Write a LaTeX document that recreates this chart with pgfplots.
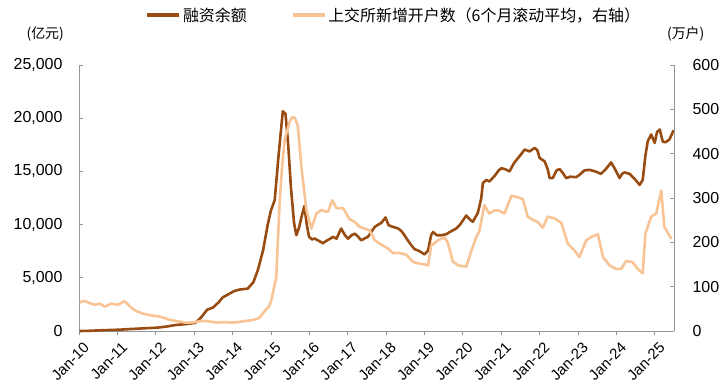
\documentclass[border=0pt]{standalone}
\usepackage{fontspec}
\setmainfont{Liberation Sans}
\newfontfamily\cjk{Noto Sans CJK SC}
\usepackage{pgfplots}
\pgfplotsset{compat=1.18}
\definecolor{darkb}{RGB}{153,76,18}
\definecolor{lightp}{RGB}{248,196,150}
\definecolor{axgray}{RGB}{150,150,150}

\pgfplotstableread{
x v
2010.00 0
2010.25 20
2010.50 60
2010.75 90
2011.00 120
2011.25 170
2011.50 220
2011.75 270
2012.00 310
2012.25 420
2012.50 570
2012.75 650
2012.90 720
2013.00 780
2013.15 1300
2013.30 2000
2013.45 2200
2013.60 2700
2013.70 3150
2013.85 3450
2014.00 3750
2014.15 3900
2014.35 3980
2014.50 4600
2014.62 5800
2014.75 7600
2014.87 10000
2014.95 11300
2015.05 12300
2015.15 16500
2015.26 20650
2015.33 20400
2015.40 17500
2015.47 13500
2015.55 10200
2015.61 9000
2015.68 9700
2015.75 10800
2015.82 11750
2015.88 10000
2015.94 8850
2016.02 8600
2016.08 8700
2016.18 8500
2016.30 8250
2016.40 8500
2016.50 8700
2016.56 8850
2016.65 8680
2016.77 9630
2016.87 9000
2016.95 8680
2017.04 9000
2017.12 9150
2017.20 8900
2017.29 8520
2017.38 8700
2017.46 8840
2017.55 9300
2017.64 9780
2017.73 10000
2017.81 10160
2017.92 10670
2018.00 9940
2018.10 9800
2018.24 9650
2018.33 9400
2018.41 9000
2018.50 8500
2018.60 8000
2018.67 7700
2018.80 7500
2018.93 7200
2019.02 7550
2019.10 9000
2019.15 9300
2019.25 9000
2019.36 9000
2019.49 9090
2019.58 9300
2019.75 9630
2019.85 10000
2020.01 10850
2020.10 10500
2020.18 10260
2020.31 11100
2020.40 12500
2020.44 13900
2020.53 14200
2020.61 14050
2020.75 14600
2020.85 15100
2020.92 15300
2021.02 15200
2021.13 15000
2021.25 15800
2021.35 16250
2021.45 16700
2021.52 17050
2021.65 16880
2021.78 17210
2021.85 17000
2021.91 16260
2022.04 15940
2022.12 15200
2022.17 14370
2022.25 14370
2022.35 15100
2022.43 15220
2022.52 14800
2022.60 14370
2022.70 14500
2022.86 14460
2022.95 14700
2023.07 15090
2023.20 15150
2023.35 15000
2023.50 14770
2023.62 15200
2023.76 15840
2023.85 15300
2023.98 14370
2024.05 14800
2024.11 14900
2024.24 14770
2024.37 14300
2024.50 13730
2024.58 14200
2024.65 16500
2024.71 17830
2024.80 18470
2024.89 17680
2024.95 18700
2025.02 18940
2025.10 17800
2025.17 17740
2025.27 17990
2025.38 18870
}\margin

\pgfplotstableread{
x r
2010.00 65
2010.13 68
2010.25 63
2010.39 59
2010.52 62
2010.65 55
2010.82 62
2010.92 60
2011.00 59
2011.10 65
2011.16 67
2011.25 60
2011.38 49
2011.50 44
2011.64 39
2011.80 36
2011.94 34
2012.05 33
2012.20 29
2012.35 25
2012.46 23
2012.60 21
2012.72 19
2012.85 19
2012.98 20
2013.10 22
2013.24 23
2013.40 21
2013.58 19
2013.75 20
2013.93 19
2014.10 20
2014.32 23
2014.50 25
2014.66 30
2014.79 45
2014.90 55
2014.96 68
2015.09 121
2015.18 295
2015.25 380
2015.31 432
2015.44 473
2015.50 482
2015.57 481
2015.65 462
2015.74 371
2015.87 273
2016.00 231
2016.13 265
2016.26 273
2016.35 270
2016.43 269
2016.54 295
2016.65 277
2016.82 277
2016.99 252
2017.12 246
2017.25 235
2017.38 231
2017.51 227
2017.64 205
2017.77 197
2017.90 190
2018.00 185
2018.11 176
2018.28 176
2018.46 172
2018.63 156
2018.80 152
2018.95 150
2019.02 148
2019.10 192
2019.28 205
2019.45 211
2019.53 200
2019.66 157
2019.80 148
2020.01 145
2020.14 180
2020.27 212
2020.35 225
2020.48 284
2020.60 265
2020.75 272
2020.85 272
2021.00 265
2021.18 305
2021.30 303
2021.48 297
2021.60 258
2021.75 250
2021.86 246
2021.99 233
2022.12 258
2022.30 254
2022.47 244
2022.64 197
2022.81 182
2022.94 167
2023.12 205
2023.29 214
2023.42 218
2023.55 167
2023.72 148
2023.89 140
2024.02 140
2024.15 158
2024.32 155
2024.45 140
2024.58 130
2024.65 220
2024.80 258
2024.93 265
2025.06 317
2025.14 235
2025.32 208
}\accounts

\begin{document}
\begin{tikzpicture}
\path[use as bounding box] (-79bp,-58bp) rectangle (646bp,331bp);
\pgfplotsset{
  every axis/.append style={
    scale only axis, width=595bp, height=266bp,
    xmin=2010, xmax=2025.5,
    font=\fontsize{16}{19}\selectfont,
    /pgf/number format/assume math mode=true,
    axis line style={axgray, line width=0.8pt},
    major tick length=4bp,
    every tick/.style={axgray, line width=0.8pt},
  }
}
\begin{axis}[
  clip=false,
  axis x line*=bottom, axis y line*=left,
  ymin=0, ymax=25000, ytick={0,5000,...,25000},
  scaled y ticks=false,
  /pgf/number format/1000 sep={,},
  xtick={2010,...,2025},
  xticklabels={Jan-10,Jan-11,Jan-12,Jan-13,Jan-14,Jan-15,Jan-16,Jan-17,Jan-18,Jan-19,Jan-20,Jan-21,Jan-22,Jan-23,Jan-24,Jan-25},
  xticklabel style={font=\fontsize{15}{18}\selectfont, rotate=45, anchor=north east, inner sep=1bp, yshift=-6bp, xshift=-1bp},
  xtick align=outside,
  ytick align=inside,
  yticklabel style={xshift=-13bp},
  legend style={at={(0.529,1.188)}, anchor=center, draw=none, fill=none,
    legend columns=2, font=\cjk\fontsize{16}{18}\selectfont,
    /tikz/every even column/.append style={column sep=42bp}},
  legend image code/.code={\draw[#1, line width=3.5bp] (0bp,0bp) -- (32bp,0bp);},
  x filter/.expression={2010+(x-2010)*1.006+0.018},
]
\addplot[darkb, line width=2.6bp, line join=round] table[x=x, y=v] {\margin};
\addlegendentry{融资余额}
\addlegendimage{lightp, line width=3.5bp}
\addlegendentry{上交所新增开户数（6个月滚动平均，右轴）}
\node[font=\cjk\fontsize{14}{17}\selectfont] at (rel axis cs:-0.0568,1.117) {(亿元)};
\node[font=\cjk\fontsize{14}{17}\selectfont] at (rel axis cs:1.0197,1.117) {(万户)};
\end{axis}
\begin{axis}[
  axis y line*=right, axis x line=none,
  ymin=0, ymax=600, ytick={0,100,...,600},
  ytick align=inside,
  yticklabel style={xshift=15bp},
  x filter/.expression={2010+(x-2010)*1.006+0.018},
]
\addplot[lightp, line width=2.6bp, line join=round] table[x=x, y=r] {\accounts};
\end{axis}
\end{tikzpicture}
\end{document}
